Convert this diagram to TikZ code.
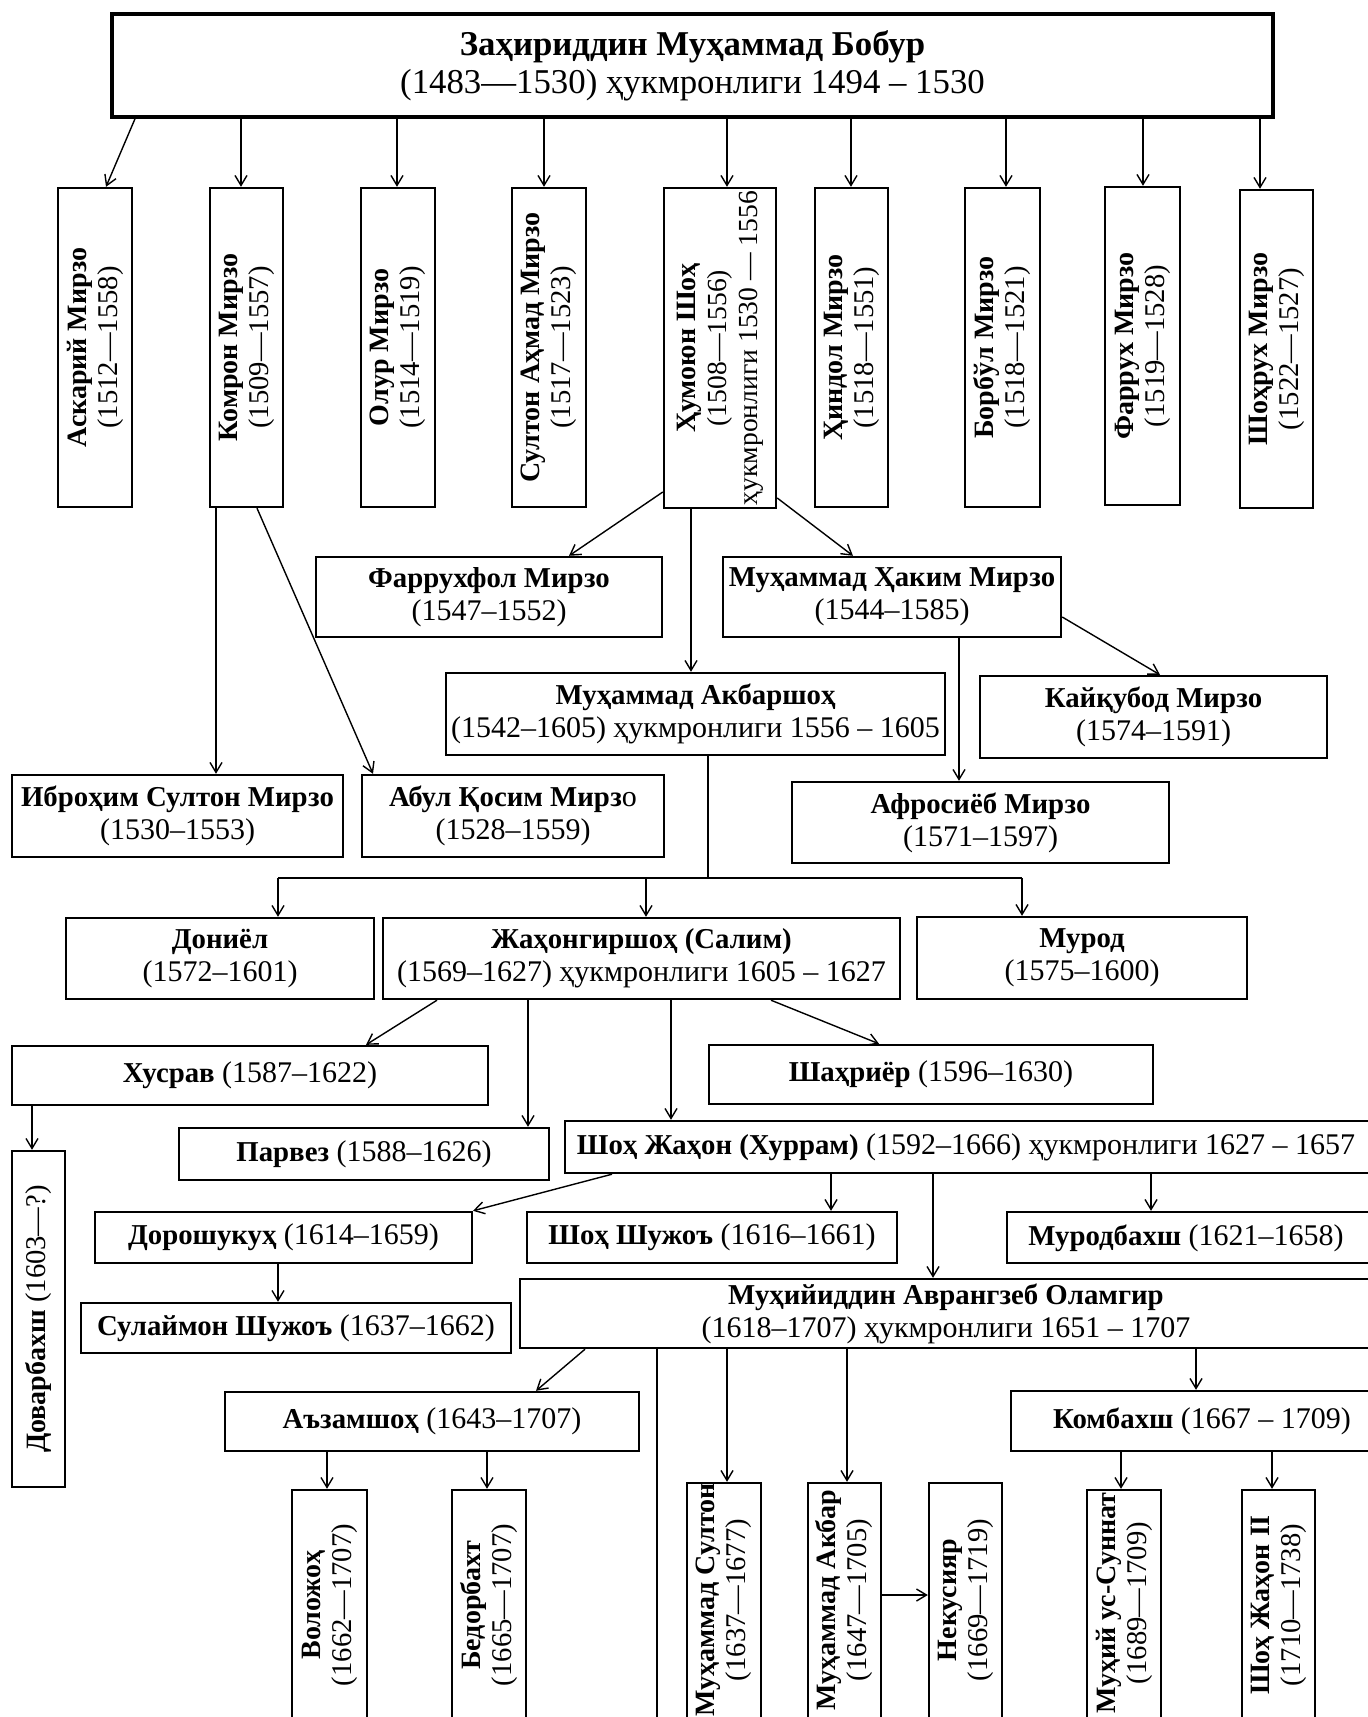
\documentclass[tikz,border=0pt]{standalone}
\usepackage{fontspec}
\setmainfont{Liberation Serif}
\usetikzlibrary{arrows.meta,fit,calc}
\newcommand\NmH[1]{{\fontsize{14.4}{16.5}\selectfont\bfseries #1}}
\newcommand\NmV[1]{{\fontsize{14}{15.5}\selectfont\bfseries #1}}
\newcommand\mkbox[5]{\node[box, fit={(#2) (#3)}] (#1) {}; \node[#4] (#1t) at (#1.center) {#5};}
\newcommand\mkboxat[6]{\node[box, fit={(#2) (#3)}] (#1) {}; \node[#4] (#1t) at (#5) {#6};}
\tikzset{
  x=0.5pt, y=-0.5pt,
  box/.style={draw, line width=1.2pt, inner sep=0pt},
  tx/.style={align=center, inner sep=0pt, font=\fontsize{15}{16.5}\selectfont},
  vtx/.style={align=center, inner sep=0pt, rotate=90, font=\fontsize{14.3}{15.5}\selectfont},
  arr/.style={line width=0.7pt, -{Straight Barb[length=5pt,width=6pt]}},
  ln/.style={line width=0.7pt},
}
\begin{document}
\begin{tikzpicture}
\useasboundingbox[fill=white] (0,0) rectangle (1367,1717);
% top
\node[box, line width=1.8pt, fit={(112,14) (1273,117)}] (top) {};
\node[align=center, inner sep=0pt, font=\fontsize{17.4}{19}\selectfont] (topt) at (top.center)
  {{\bfseries Заҳириддин Муҳаммад Бобур}\\(1483—1530) ҳукмронлиги 1494 – 1530};
% row 1
\mkbox{ask}{58,188}{132,507}{vtx}{\NmV{Аскарий Мирзо}\\(1512—1558)}
\mkbox{kom}{210,188}{283,507}{vtx}{\NmV{Комрон Мирзо}\\(1509—1557)}
\mkbox{olu}{361,188}{435,507}{vtx}{\NmV{Олур Мирзо}\\(1514—1519)}
\mkbox{sul}{512,188}{586,507}{vtx}{\NmV{Султон Аҳмад Мирзо}\\(1517—1523)}
\node[box, fit={(664,188) (776,508)}] (hum) {};
\node[align=center, inner sep=0pt, rotate=90, font=\fontsize{13.8}{15.5}\selectfont] (humt) at (hum.center)
  {\NmV{Ҳумоюн Шоҳ}\\(1508—1556)\\ҳукмронлиги 1530 — 1556};
\mkbox{hin}{815,188}{888,507}{vtx}{\NmV{Ҳиндол Мирзо}\\(1518—1551)}
\mkbox{bor}{965,188}{1040,507}{vtx}{\NmV{Борбўл Мирзо}\\(1518—1521)}
\mkbox{far}{1105,187}{1180,505}{vtx}{\NmV{Фаррух Мирзо}\\(1519—1528)}
\mkbox{shr}{1240,190}{1313,508}{vtx}{\NmV{Шоҳрух Мирзо}\\(1522—1527)}
% row 2-3
\mkbox{fer}{316,557}{662,637}{tx}{\NmH{Фаррухфол Мирзо}\\(1547–1552)}
\mkbox{hak}{723,557}{1061,637}{tx}{\NmH{Муҳаммад Ҳаким Мирзо}\\(1544–1585)}
\mkbox{akb}{446,673}{945,755}{tx}{\NmH{Муҳаммад Акбаршоҳ}\\(1542–1605) ҳукмронлиги 1556 – 1605}
\mkbox{kay}{980,676}{1327,758}{tx}{\NmH{Кайқубод Мирзо}\\(1574–1591)}
\mkbox{ibr}{12,775}{343,857}{tx}{\NmH{Иброҳим Султон Мирзо}\\(1530–1553)}
\mkbox{abu}{362,775}{664,857}{tx}{\NmH{Абул Қосим Мирз}о\\(1528–1559)}
\mkbox{afr}{792,782}{1169,863}{tx}{\NmH{Афросиёб Мирзо}\\(1571–1597)}
% row 4
\mkbox{don}{66,918}{374,999}{tx}{\NmH{Дониёл}\\(1572–1601)}
\mkbox{jah}{383,918}{900,999}{tx}{\NmH{Жаҳонгиршоҳ (Салим)}\\(1569–1627) ҳукмронлиги 1605 – 1627}
\mkbox{mur}{917,917}{1247,999}{tx}{\NmH{Мурод}\\(1575–1600)}
% row 5
\mkbox{xus}{12,1046}{488,1105}{tx}{\NmH{Хусрав} (1587–1622)}
\mkbox{sha}{709,1045}{1153,1104}{tx}{\NmH{Шаҳриёр} (1596–1630)}
\mkbox{par}{179,1128}{549,1180}{tx}{\NmH{Парвез} (1588–1626)}
\mkboxat{shj}{565,1121}{1372,1173}{tx}{966,1147}{\NmH{Шоҳ Жаҳон (Хуррам)} (1592–1666) ҳукмронлиги 1627 – 1657}
\mkbox{dov}{12,1151}{65,1487}{vtx}{\NmV{Доварбахш} (1603—?)}
% row 6
\mkbox{dor}{95,1212}{472,1263}{tx}{\NmH{Дорошукуҳ} (1614–1659)}
\mkbox{shu}{527,1212}{897,1263}{tx}{\NmH{Шоҳ Шужоъ} (1616–1661)}
\mkboxat{mrb}{1007,1212}{1372,1263}{tx}{1186,1238}{\NmH{Муродбахш} (1621–1658)}
\mkbox{slm}{81,1303}{511,1353}{tx}{\NmH{Сулаймон Шужоъ} (1637–1662)}
\mkboxat{avr}{520,1279}{1372,1348}{tx}{946,1314}{\NmH{Муҳийиддин Аврангзеб Оламгир}\\(1618–1707) ҳукмронлиги 1651 – 1707}
\mkbox{azm}{225,1392}{639,1451}{tx}{\NmH{Аъзамшоҳ} (1643–1707)}
\mkboxat{kmb}{1011,1391}{1372,1451}{tx}{1202,1421}{\NmH{Комбахш} (1667 – 1709)}
% bottom row
\mkboxat{vol}{292,1490}{367,1730}{vtx}{329.5,1605}{\NmV{Воложоҳ}\\(1662—1707)}
\mkboxat{bed}{452,1490}{526,1730}{vtx}{489,1605}{\NmV{Бедорбахт}\\(1665—1707)}
\mkboxat{msu}{687,1483}{761,1730}{vtx}{724,1600}{\NmV{Муҳаммад Султон}\\(1637—1677)}
\mkboxat{mak}{808,1483}{881,1730}{vtx}{844.5,1600}{\NmV{Муҳаммад Акбар}\\(1647—1705)}
\mkboxat{nek}{929,1483}{1002,1730}{vtx}{965.5,1600}{\NmV{Некусияр}\\(1669—1719)}
\mkboxat{muh}{1087,1490}{1161,1730}{vtx}{1124,1603}{\NmV{Муҳий ус-Суннат}\\(1689—1709)}
\mkboxat{sjt}{1242,1490}{1315,1730}{vtx}{1278.5,1605}{\NmV{Шоҳ Жаҳон II}\\(1710—1738)}
% connectors: top
\draw[arr] (135,0 |- top.south) -- (106,0 |- ask.north);
\foreach \xx/\nn in {241/kom,397/olu,544/sul,727/hum,851/hin,1006/bor,1143/far,1260/shr}
  \draw[arr] (\xx,0 |- top.south) -- (\xx,0 |- \nn.north);
% Komron
\draw[arr] (216,0 |- kom.south) -- (216,0 |- ibr.north);
\draw[arr] (257,0 |- kom.south) -- (373,0 |- abu.north);
% Humoyun
\draw[arr] (hum.west |- 0,492) -- (569,0 |- fer.north);
\draw[arr] (691,0 |- hum.south) -- (691,0 |- akb.north);
\draw[arr] (hum.east |- 0,498) -- (853,0 |- hak.north);
% Hakim
\draw[arr] (hak.east |- 0,617) -- (1160,0 |- kay.north);
\draw[arr] (959,0 |- hak.south) -- (959,0 |- afr.north);
% Akbar
\coordinate (barL) at (278,878);
\coordinate (barR) at (1022,878);
\draw[ln] (708,0 |- akb.south) -- (708,0 |- barL);
\draw[ln] (barL) -- (barR);
\draw[arr] (barL) -- (barL |- don.north);
\draw[arr] (646,0 |- barL) -- (646,0 |- jah.north);
\draw[arr] (barR) -- (barR |- mur.north);
% Jahongir
\draw[arr] (437,0 |- jah.south) -- (366,0 |- xus.north);
\draw[arr] (528,0 |- jah.south) -- (528,0 |- par.north);
\draw[arr] (671,0 |- jah.south) -- (671,0 |- shj.north);
\draw[arr] (771,0 |- jah.south) -- (879,0 |- sha.north);
\draw[arr] (32,0 |- xus.south) -- (32,0 |- dov.north);
% Shoh Jahon
\draw[arr] (612,0 |- shj.south) -- (473,0 |- dor.north);
\draw[arr] (831,0 |- shj.south) -- (831,0 |- shu.north);
\draw[arr] (933,0 |- shj.south) -- (933,0 |- avr.north);
\draw[arr] (1151,0 |- shj.south) -- (1151,0 |- mrb.north);
\draw[arr] (278,0 |- dor.south) -- (278,0 |- slm.north);
% Avrangzeb
\draw[arr] (585,0 |- avr.south) -- (536,0 |- azm.north);
\coordinate (avrEnd) at (657,1717);
\draw[ln] (avrEnd |- avr.south) -- (avrEnd);
\draw[arr] (727,0 |- avr.south) -- (727,0 |- msu.north);
\draw[arr] (847,0 |- avr.south) -- (847,0 |- mak.north);
\draw[arr] (1196,0 |- avr.south) -- (1196,0 |- kmb.north);
\draw[arr] (327,0 |- azm.south) -- (327,0 |- vol.north);
\draw[arr] (487,0 |- azm.south) -- (487,0 |- bed.north);
\draw[arr] (mak.east |- 0,1595) -- (nek.west |- 0,1595);
\draw[arr] (1121,0 |- kmb.south) -- (1121,0 |- muh.north);
\draw[arr] (1272,0 |- kmb.south) -- (1272,0 |- sjt.north);
\end{tikzpicture}
\end{document}
